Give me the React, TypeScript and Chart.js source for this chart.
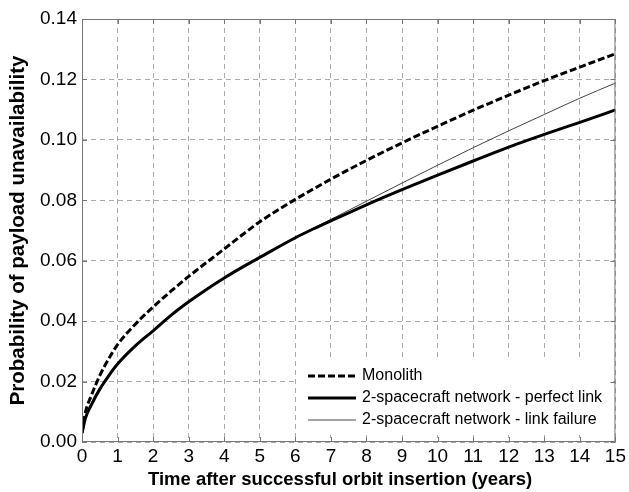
import React, { useEffect, useRef } from "react";
import { Chart, registerables } from "chart.js";

Chart.register(...registerables);

const years = [0, 0.1, 0.25, 0.5, 0.75, 1, 1.5, 2, 2.5, 3, 3.5, 4, 4.5, 5, 6, 6.5, 7, 8, 9, 10, 11, 12, 13, 14, 15];
const monolith = [0.003, 0.010, 0.015, 0.022, 0.0275, 0.0322, 0.039, 0.0447, 0.0499, 0.0548, 0.0594, 0.0639, 0.0685, 0.0729, 0.0803, 0.0837, 0.087, 0.0932, 0.099, 0.1045, 0.1098, 0.1148, 0.1196, 0.1241, 0.1285];
const perfectLink = [0.003, 0.008, 0.012, 0.0175, 0.0219, 0.0258, 0.0318, 0.0368, 0.0419, 0.0464, 0.0505, 0.0543, 0.0578, 0.0611, 0.0676, 0.0705, 0.0732, 0.0785, 0.0835, 0.0883, 0.093, 0.0976, 0.1018, 0.1058, 0.1099];
const linkFailure = [0.003, 0.008, 0.012, 0.0175, 0.0219, 0.0258, 0.0318, 0.0368, 0.0419, 0.0464, 0.0505, 0.0543, 0.0578, 0.0611, 0.0677, 0.0707, 0.0737, 0.0797, 0.0857, 0.0916, 0.0974, 0.103, 0.1084, 0.1138, 0.1188];
const seriesLabels = ["Monolith", "2-spacecraft network - perfect link", "2-spacecraft network - link failure"];
const xTitle = "Time after successful orbit insertion (years)";
const yTitle = "Probability of payload unavailability";

const FONT = "Arial, 'Liberation Sans', sans-serif";

const toPts = (vals: number[]) => vals.map((v, i) => ({ x: years[i], y: v }));

const frame = {
  id: "frame",
  afterDatasetsDraw(chart: any) {
    const { ctx } = chart;
    const bx = 296, by = 358, bw = 316, bh = 77;
    ctx.save();
    ctx.fillStyle = "#fff";
    ctx.fillRect(bx, by, bw, bh);
    const lx0 = 308, lx1 = 356, tx = 362;
    const rows = [376, 398, 420];
    const styles = [
      { w: 3, dash: [7, 3], c: "#000" },
      { w: 3, dash: [], c: "#000" },
      { w: 1, dash: [], c: "#444" },
    ];
    ctx.font = "16px " + FONT;
    ctx.textBaseline = "middle";
    ctx.fillStyle = "#000";
    rows.forEach((ry, i) => {
      ctx.beginPath();
      ctx.setLineDash(styles[i].dash);
      ctx.lineWidth = styles[i].w;
      ctx.strokeStyle = styles[i].c;
      ctx.moveTo(lx0, ry);
      ctx.lineTo(lx1, ry);
      ctx.stroke();
      ctx.fillText(seriesLabels[i], tx, ry);
    });
    ctx.restore();
  },
  afterDraw(chart: any) {
    const { ctx, chartArea: a, scales } = chart;
    ctx.save();
    ctx.setLineDash([]);
    ctx.strokeStyle = "#777";
    ctx.lineWidth = 1;
    ctx.strokeRect(a.left + 0.5, a.top + 0.5, a.right - a.left - 1, a.bottom - a.top - 1);
    const tl = 5;
    ctx.beginPath();
    scales.x.ticks.forEach((t: any) => {
      const px = Math.round(scales.x.getPixelForValue(t.value)) + 0.5;
      ctx.moveTo(px, a.bottom);
      ctx.lineTo(px, a.bottom - tl);
      ctx.moveTo(px, a.top);
      ctx.lineTo(px, a.top + tl);
    });
    scales.y.ticks.forEach((t: any) => {
      const py = Math.round(scales.y.getPixelForValue(t.value)) + 0.5;
      ctx.moveTo(a.left, py);
      ctx.lineTo(a.left + tl, py);
      ctx.moveTo(a.right, py);
      ctx.lineTo(a.right - tl, py);
    });
    ctx.stroke();
    // x-axis title
    ctx.fillStyle = "#000";
    ctx.font = "bold 18.5px " + FONT;
    ctx.textAlign = "center";
    ctx.textBaseline = "middle";
    ctx.fillText(xTitle, 340, 480);
    ctx.restore();
  },
};

export default function App() {
  const ref = useRef<HTMLCanvasElement | null>(null);
  useEffect(() => {
    if (!ref.current) return;
    const chart = new Chart(ref.current, {
      type: "line",
      data: {
        datasets: [
          { label: seriesLabels[0], data: toPts(monolith), borderColor: "#000", borderWidth: 3, borderDash: [7, 3], pointRadius: 0, cubicInterpolationMode: "monotone", fill: false },
          { label: seriesLabels[1], data: toPts(perfectLink), borderColor: "#000", borderWidth: 3, pointRadius: 0, cubicInterpolationMode: "monotone", fill: false },
          { label: seriesLabels[2], data: toPts(linkFailure), borderColor: "#444", borderWidth: 1, pointRadius: 0, cubicInterpolationMode: "monotone", fill: false },
        ],
      },
      options: {
        animation: false,
        responsive: false,
        maintainAspectRatio: false,
        layout: { padding: { top: 19, right: 13, left: 0, bottom: 0 } },
        plugins: { legend: { display: false }, tooltip: { enabled: false } },
        scales: {
          x: {
            type: "linear",
            min: 0,
            max: 15,
            ticks: { stepSize: 1, color: "#000", font: { family: FONT, size: 19 }, padding: 3, maxRotation: 0 },
            grid: { color: "#aaa", lineWidth: 1, drawTicks: false },
            border: { display: false, dash: [5, 4] },
            title: { display: false },
            afterFit(s: any) { s.height = 50; },
          },
          y: {
            min: 0,
            max: 0.14,
            ticks: { stepSize: 0.02, color: "#000", font: { family: FONT, size: 19 }, padding: 5, callback: (v: any) => Number(v).toFixed(2) },
            grid: { color: "#aaa", lineWidth: 1, drawTicks: false },
            border: { display: false, dash: [5, 4] },
            title: { display: true, text: yTitle, color: "#000", font: { family: FONT, size: 20.5, weight: "bold" }, padding: { top: 6, bottom: 0 } },
            afterFit(s: any) { s.width = 82; },
          },
        },
      },
      plugins: [frame],
    } as any);
    return () => chart.destroy();
  }, []);
  return (
    <div style={{ position: "absolute", left: 0, top: 0, width: 629, height: 492, background: "#fff" }}>
      <canvas ref={ref} width={629} height={492} style={{ display: "block" }} />
    </div>
  );
}
